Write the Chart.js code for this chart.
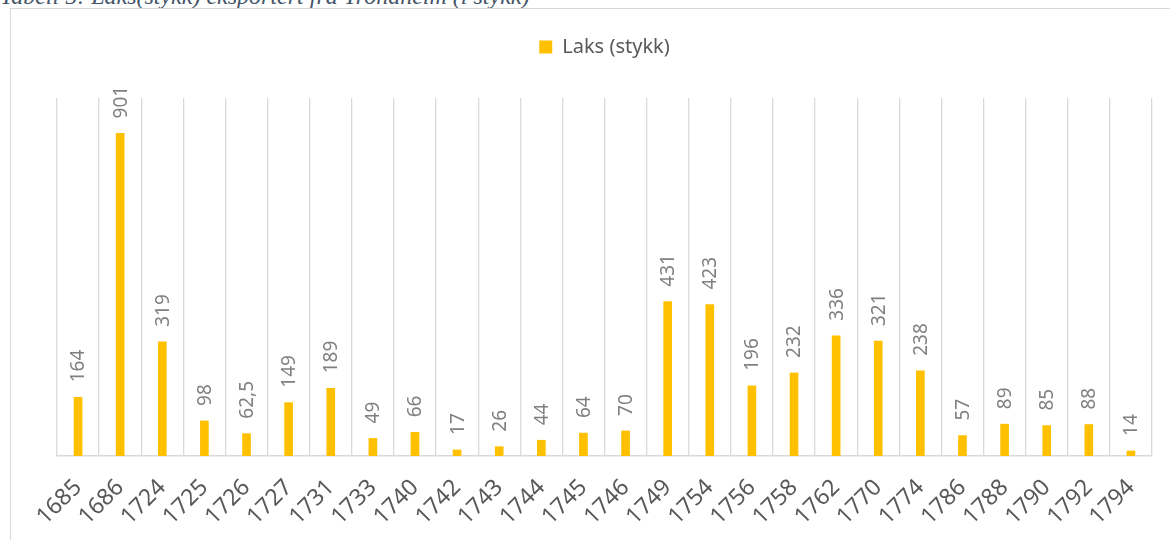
<!DOCTYPE html>
<html>
<head>
<meta charset="utf-8">
<script src="https://cdn.jsdelivr.net/npm/chart.js@4/dist/chart.umd.min.js"></script>
<style>
  html, body { margin: 0; padding: 0; background: #fff; }
  body { width: 1170px; height: 540px; position: relative; overflow: hidden; }
  #caption { position: absolute; left: 0; top: -17px; font-family: "Liberation Serif", serif; font-style: italic; font-size: 24px; color: #44546A; white-space: nowrap; }
  #frame { position: absolute; left: 10px; top: 8px; width: 1200px; height: 600px; border: 1px solid #d9d9d9; box-sizing: border-box; }
  #wrap { position: absolute; left: 0; top: 0; width: 1170px; height: 540px; }
</style>
</head>
<body>
<div id="caption">Tabell 5: Laks(stykk) eksportert fra Trondheim (i stykk)</div>
<div id="frame"></div>
<div id="wrap"><canvas id="c" width="1170" height="540"></canvas></div>
<script>
const years = ["1685","1686","1724","1725","1726","1727","1731","1733","1740","1742","1743","1744","1745","1746","1749","1754","1756","1758","1762","1770","1774","1786","1788","1790","1792","1794"];
const laks = [164, 901, 319, 98, 62.5, 149, 189, 49, 66, 17, 26, 44, 64, 70, 431, 423, 196, 232, 336, 321, 238, 57, 89, 85, 88, 14];
const seriesName = "Laks (stykk)";

const labelPlugin = {
  id: 'valueLabels',
  afterDatasetsDraw(chart) {
    const ctx = chart.ctx;
    const meta = chart.getDatasetMeta(0);
    ctx.save();
    ctx.fillStyle = '#808080';
    ctx.font = '19px "Noto Sans", sans-serif';
    ctx.textAlign = 'left';
    ctx.textBaseline = 'middle';
    meta.data.forEach((bar, i) => {
      const txt = String(laks[i]).replace('.', ',');
      ctx.save();
      ctx.translate(bar.x + 1, bar.y - 15);
      ctx.rotate(-Math.PI / 2);
      ctx.fillText(txt, 0, 0);
      ctx.restore();
    });
    ctx.restore();
  }
};

const legendGap = {
  id: 'legendGap',
  beforeInit(chart) {
    const origFit = chart.legend.fit;
    chart.legend.fit = function () {
      origFit.bind(chart.legend)();
      this.height += 31;
    };
  }
};

new Chart(document.getElementById('c'), {
  type: 'bar',
  data: {
    labels: years,
    datasets: [{
      label: seriesName,
      data: laks,
      backgroundColor: '#FFC000',
      borderWidth: 0,
      barThickness: 8
    }]
  },
  options: {
    responsive: false,
    animation: false,
    layout: { padding: { left: 57, right: 18, top: 27, bottom: 0 } },
    plugins: {
      legend: {
        display: true,
        position: 'top',
        labels: {
          boxWidth: 13, boxHeight: 13,
          color: '#595959',
          font: { family: '"Noto Sans", sans-serif', size: 20 },
          padding: 10
        }
      },
      tooltip: { enabled: false }
    },
    scales: {
      x: {
        grid: { display: true, color: '#d9d9d9', lineWidth: 1.3, drawTicks: false, offset: true },
        border: { display: true, color: '#d9d9d9', width: 1.5 },
        ticks: {
          color: '#595959',
          font: { family: '"Noto Sans", sans-serif', size: 23 },
          minRotation: 45, maxRotation: 45,
          padding: 18,
          autoSkip: false
        },
        afterFit(scale) { scale.height = 84; }
      },
      y: {
        display: false,
        min: 0, max: 1000
      }
    }
  },
  plugins: [labelPlugin, legendGap]
});
</script>
</body>
</html>
